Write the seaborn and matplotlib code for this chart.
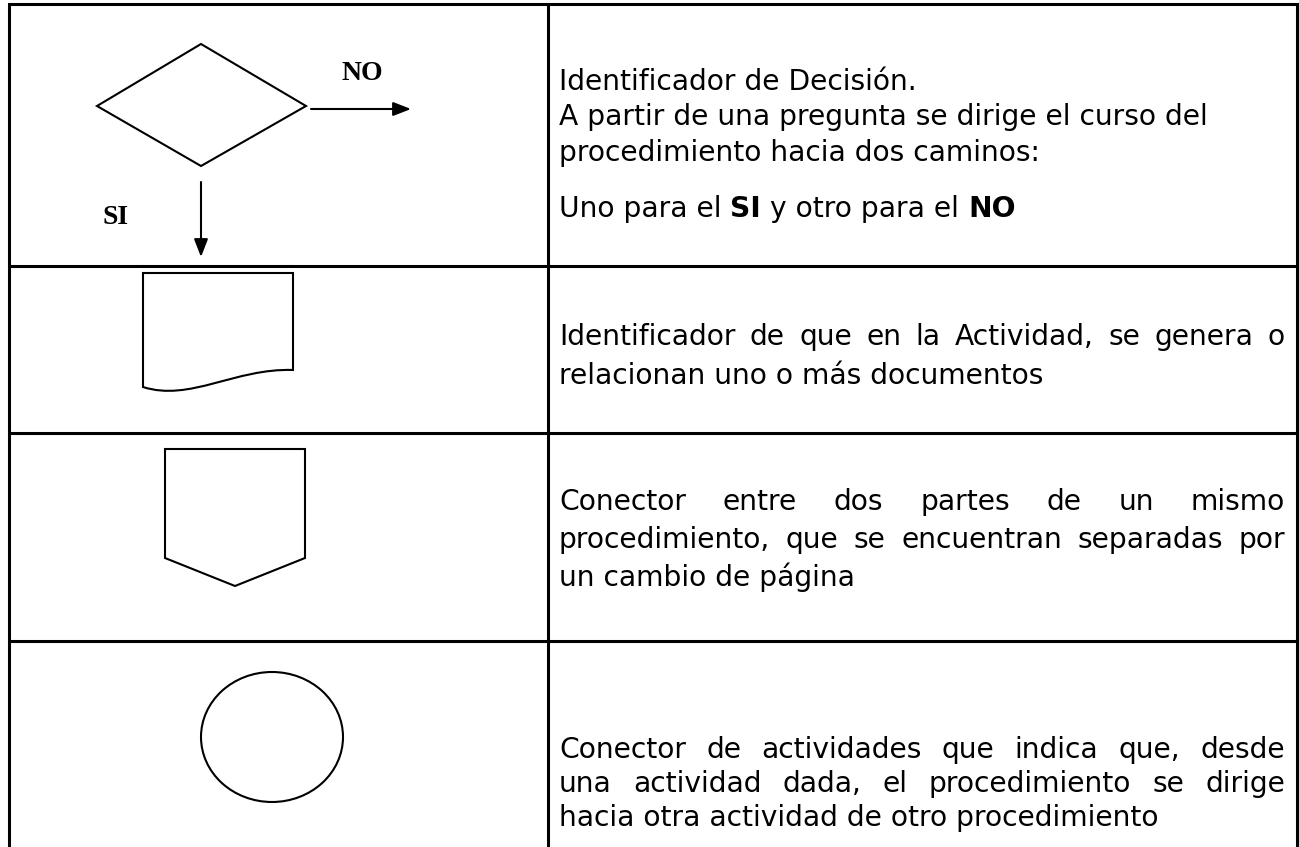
"""
Flowchart symbol table (decision, document, page connector, activity connector)
"""
import matplotlib
matplotlib.use("Agg")
import matplotlib.pyplot as plt
import matplotlib.patches as mpatches
from matplotlib.path import Path
import seaborn as sns

# table layout (pixels, y grows downward)
table_left, table_right = 9, 1297
table_top, table_bottom = 4, 850
col_split = 548
row_lines = [266, 433, 641]

# descriptions, one list of lines per row
row1_lines = [
    "Identificador de Decisión.",
    "A partir de una pregunta se dirige el curso del",
    "procedimiento hacia dos caminos:",
]
row1_last = [("Uno para el ", "normal"), ("SI", "bold"), (" y otro para el ", "normal"), ("NO", "bold")]
row2_lines = [
    "Identificador de que en la Actividad, se genera o",
    "relacionan uno o más documentos",
]
row3_lines = [
    "Conector entre dos partes de un mismo",
    "procedimiento, que se encuentran separadas por",
    "un cambio de página",
]
row4_lines = [
    "Conector de actividades que indica que, desde",
    "una actividad dada, el procedimiento se dirige",
    "hacia otra actividad de otro procedimiento",
]
branch_labels = ["NO", "SI"]

# baselines of each text line
row1_base = [90, 125, 161, 217]
row2_base = [345, 384]
row3_base = [510, 548, 586]
row4_base = [758, 792, 826]

text_x0, text_x1 = 559, 1285
font = "DejaVu Sans"

sns.set_theme(style="white")
plt.rcParams["font.family"] = ["DejaVu Sans"]
plt.rcParams["text.color"] = "black"

fig = plt.figure(figsize=(12.99, 8.47), dpi=100)
ax = fig.add_axes([0, 0, 1, 1])
ax.set_xlim(0, 1299)
ax.set_ylim(847, 0)
ax.axis("off")
renderer = fig.canvas.get_renderer()


def text_width(s, size, weight="normal"):
    t = ax.text(0, 0, s, fontsize=size, fontweight=weight, family=font)
    w = t.get_window_extent(renderer=renderer).width
    t.remove()
    return w


# pick a font size so the long line of row 1 is about 651 px wide
fs = 10 * 651 / text_width(row1_lines[1], 10)


def draw_left(s, y):
    ax.text(text_x0, y, s, fontsize=fs, family=font, va="baseline", ha="left", color="black")


def draw_justified(s, y):
    words = s.split()
    widths = [text_width(w, fs) for w in words]
    gap = (text_x1 - text_x0 - sum(widths)) / (len(words) - 1)
    x = text_x0
    for w, wd in zip(words, widths):
        ax.text(x, y, w, fontsize=fs, family=font, va="baseline", ha="left", color="black")
        x += wd + gap


# table grid
lw_table = 2.2
ax.plot([table_left, table_right, table_right, table_left, table_left],
        [table_top, table_top, table_bottom, table_bottom, table_top],
        color="black", lw=lw_table, solid_joinstyle="miter")
ax.plot([col_split, col_split], [table_top, table_bottom], color="black", lw=lw_table)
for y in row_lines:
    ax.plot([table_left, table_right], [y, y], color="black", lw=lw_table)

lw_shape = 1.5

# decision diamond with arrows
diamond = [(97, 106), (201, 44), (306, 106), (201, 166)]
ax.add_patch(mpatches.Polygon(diamond, closed=True, fill=False, ec="black", lw=lw_shape))
arrow = dict(arrowstyle="-|>,head_length=0.9,head_width=0.35", color="black", lw=lw_shape,
             shrinkA=0, shrinkB=0)
ax.annotate("", xy=(411, 109), xytext=(311, 109), arrowprops=arrow)
ax.annotate("", xy=(201, 257), xytext=(201, 182), arrowprops=arrow)
ax.text(362, 74, branch_labels[0], fontsize=20, fontweight="bold", family="Liberation Serif",
        ha="center", va="center", color="black")
ax.text(116, 218, branch_labels[1], fontsize=20, fontweight="bold", family="Liberation Serif",
        ha="center", va="center", color="black")

# document shape
doc_verts = [(143, 273), (293, 273), (293, 370), (235, 368), (190, 402), (143, 387), (143, 273)]
doc_codes = [Path.MOVETO, Path.LINETO, Path.LINETO, Path.CURVE4, Path.CURVE4, Path.CURVE4,
             Path.CLOSEPOLY]
ax.add_patch(mpatches.PathPatch(Path(doc_verts, doc_codes), fill=False, ec="black", lw=lw_shape))

# off-page connector
pentagon = [(165, 449), (305, 449), (305, 558), (235, 586), (165, 558)]
ax.add_patch(mpatches.Polygon(pentagon, closed=True, fill=False, ec="black", lw=lw_shape))

# activity connector
ax.add_patch(mpatches.Ellipse((272, 737), 142, 130, fill=False, ec="black", lw=lw_shape))

# descriptions
for s, y in zip(row1_lines, row1_base):
    draw_left(s, y)
x = text_x0
for s, wt in row1_last:
    ax.text(x, row1_base[3], s, fontsize=fs, fontweight=wt, family=font, va="baseline",
            color="black")
    x += text_width(s.replace(" ", "\u00a0"), fs, wt)

for lines, bases in [(row2_lines, row2_base), (row3_lines, row3_base), (row4_lines, row4_base)]:
    for s, y in zip(lines[:-1], bases[:-1]):
        draw_justified(s, y)
    draw_left(lines[-1], bases[-1])

fig.savefig("out.png", dpi=100)
